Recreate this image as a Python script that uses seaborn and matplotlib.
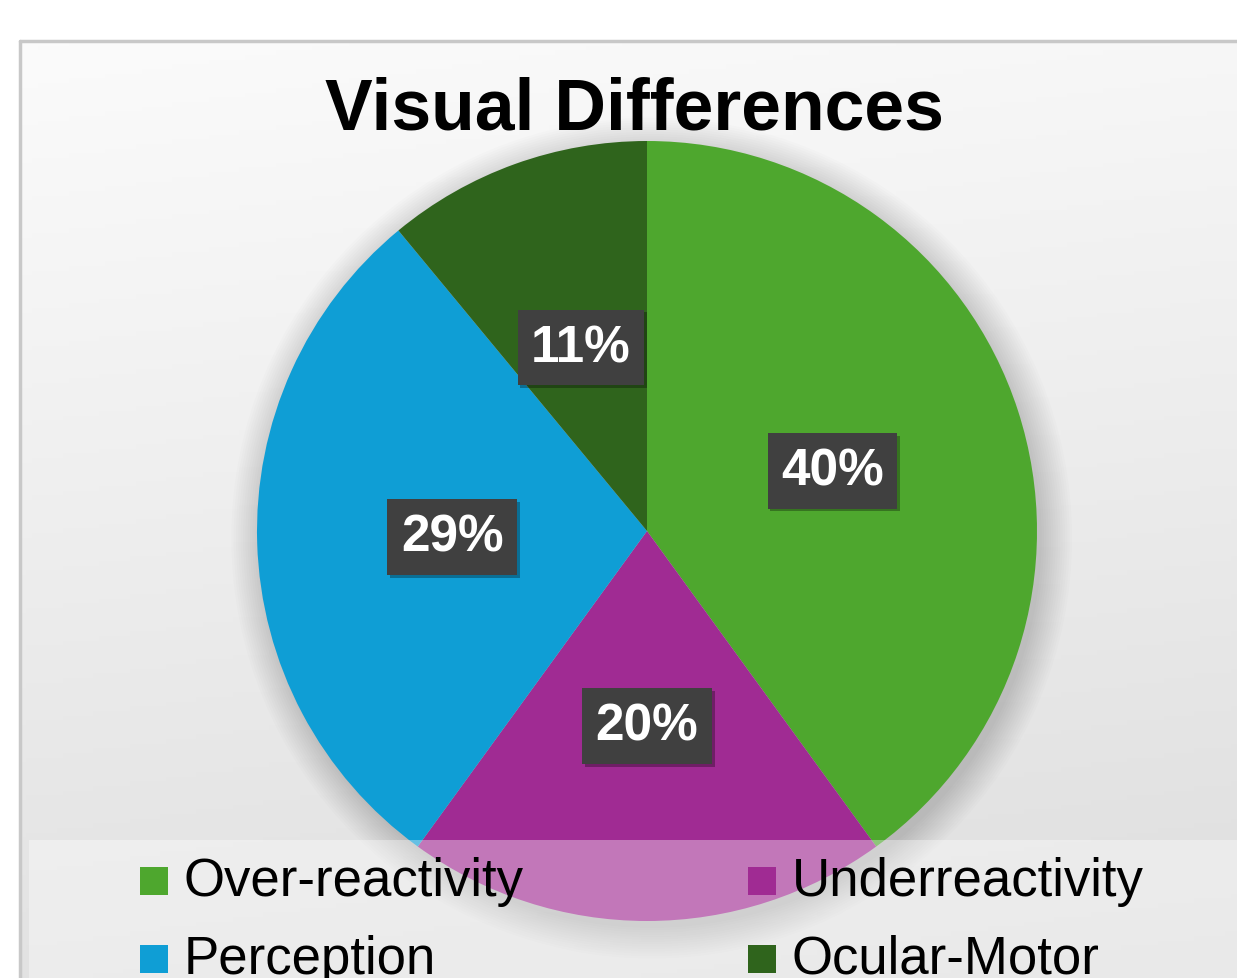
import numpy as np
import matplotlib
matplotlib.use("Agg")
import matplotlib.pyplot as plt
import matplotlib.patheffects as pe
from matplotlib.patches import Rectangle, Circle
import seaborn as sns

# ---- data ----
categories = ["Over-reactivity", "Underreactivity", "Perception", "Ocular-Motor"]
values = [40, 20, 29, 11]
colors = ["#4EA72E", "#A02B93", "#0F9ED5", "#2F641C"]
title = "Visual Differences"

sns.set_theme(style="white")
plt.rcParams['font.family'] = ['Liberation Sans', 'DejaVu Sans']

W, H = 1237, 979
fig = plt.figure(figsize=(W / 100, H / 100), dpi=100)
fig.patch.set_facecolor("white")

def fx(px):
    return px / W

def fy(py):
    return 1 - py / H

# ---- chart panel background with gradient ----
bg = fig.add_axes([fx(20), 0, 1 - fx(20), fy(42)])
bg.set_axis_off()
ny, nx = 200, 200
yy, xx = np.mgrid[0:1:ny * 1j, 0:1:nx * 1j]
grad = 0.985 - 0.115 * (0.85 * yy + 0.15 * xx)
bg.imshow(np.dstack([grad, grad, grad]), aspect="auto", extent=(0, 1, 1, 0), zorder=0)
bg.set_xlim(0, 1)
bg.set_ylim(1, 0)
# panel border (top and left)
fig.add_artist(plt.Line2D([fx(20), 1], [fy(42), fy(42)], color="#C8C8C8", lw=2.5))
fig.add_artist(plt.Line2D([fx(20), fx(20)], [fy(42), 0], color="#C8C8C8", lw=2.5))

# ---- pie ----
cx, cy, r = 647, 532, 390
ax = fig.add_axes([fx(cx - r), fy(cy + r), 2 * r / W, 2 * r / H])
ax.set_facecolor("none")

# soft shadow
for k in range(14):
    ax.add_patch(Circle((0.012, -0.018), 1.0 + 0.006 * k, color="black",
                        alpha=0.012, lw=0, zorder=0.5, clip_on=False))

wedges, texts, autotexts = ax.pie(
    values, colors=colors, startangle=90, counterclock=False,
    autopct="%1.0f%%", pctdistance=0.5,
    wedgeprops=dict(linewidth=0, zorder=1),
    textprops=dict(color="white", fontsize=37, fontweight="bold"),
)
for t in autotexts:
    t.set_bbox(dict(boxstyle="square,pad=0.26", facecolor="#404040",
                    edgecolor="none"))
    t.get_bbox_patch().set_path_effects(
        [pe.SimplePatchShadow(offset=(2, -2), alpha=0.3, shadow_rgbFace="black"),
         pe.Normal()])
    t.set_zorder(5)
ax.set_xlim(-1, 1)
ax.set_ylim(-1, 1)
ax.set_axis_off()

# ---- title ----
fig.text(fx(634), fy(110), title, ha="center", va="center",
         fontsize=51.5, fontweight="bold", color="black")

# ---- legend box (semi-transparent) ----
fig.add_artist(Rectangle((fx(29), 0), 1 - fx(29), fy(841), transform=fig.transFigure,
                         facecolor="white", alpha=0.36, edgecolor="none", zorder=10))

leg_x = [140, 748]
leg_y = [882, 960]
for i, (cat, col) in enumerate(zip(categories, colors)):
    row, c = divmod(i, 2)
    x0, y0 = leg_x[c], leg_y[row]
    fig.add_artist(Rectangle((fx(x0), fy(y0 + 14)), 28 / W, 28 / H,
                             transform=fig.transFigure, facecolor=col,
                             edgecolor="none", zorder=11))
    fig.text(fx(x0 + 44), fy(y0), cat, ha="left", va="center",
             fontsize=38, color="black", zorder=12)

fig.savefig("out.png", dpi=100)
